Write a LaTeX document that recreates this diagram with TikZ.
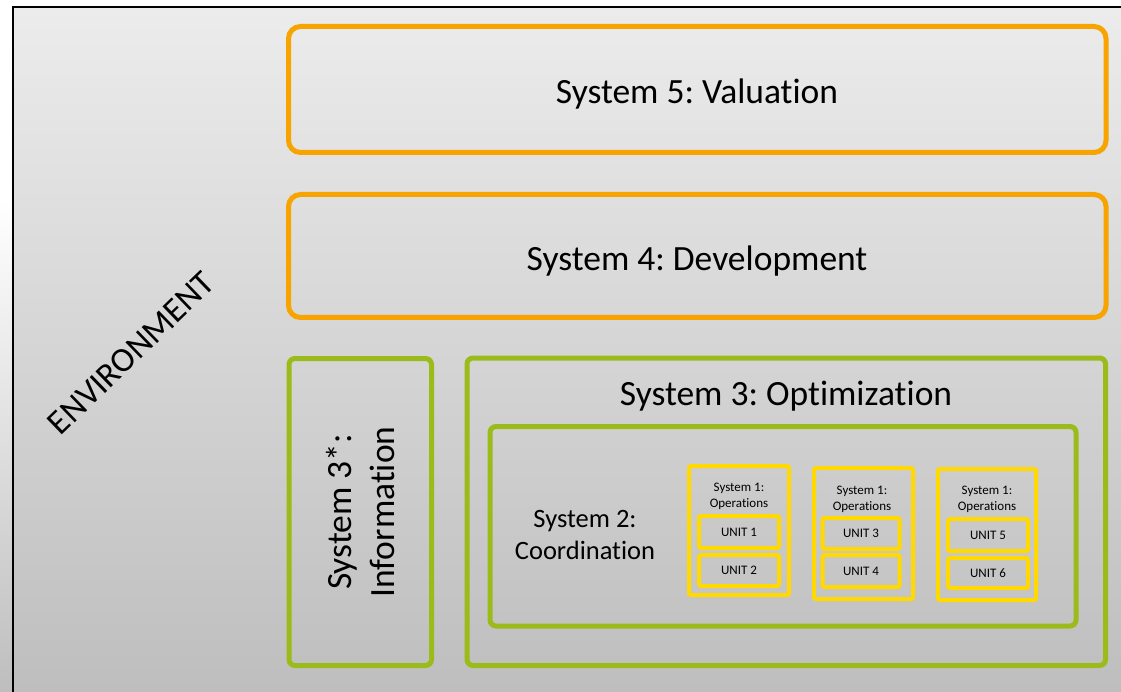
\documentclass[tikz,border=0pt]{standalone}
\usepackage{fontspec}
\setmainfont{Carlito}[Ligatures = NoCommon]
\frenchspacing
\definecolor{vsmorange}{RGB}{247,163,0}
\definecolor{vsmgreen}{RGB}{155,187,26}
\definecolor{vsmyellow}{RGB}{255,217,0}
\definecolor{envtop}{RGB}{236,236,236}
\definecolor{envbottom}{RGB}{190,190,190}
\tikzset{
	orangebox/.style = {draw = vsmorange, line width = 5pt, rounded corners = 12pt},
	greenbox/.style = {draw = vsmgreen, line width = 5pt, rounded corners = 6pt},
	yellowbox/.style = {draw = vsmyellow, line width = 4pt, rounded corners = 2pt},
	bigtext/.style = {font = \fontsize{35.5}{42.6}\selectfont, align = center},
	midtext/.style = {font = \fontsize{26.5}{32}\selectfont, align = center},
	smalltext/.style = {font = \fontsize{13}{16.5}\selectfont, align = center}
}
\begin{document}
\begin{tikzpicture}[x=1pt, y=-1pt]
		\useasboundingbox (0,0) rectangle (1121,692);
		\shade[top color = white, bottom color = envbottom] (0,200) rectangle (12,692);
		\shade[top color = envtop, bottom color = envbottom] (13,7) rectangle (1121,692);
		\draw[line width = 2pt] (13,692) -- (13,7) -- (1121,7);

		\draw (131,353) node[rotate = 44, font = \fontsize{34.5}{40}\selectfont] (env) {ENVIRONMENT};

		\draw (697.25,89.5) node[orangebox, minimum width = 817.5pt, minimum height = 126pt] (sys5) {};
		\draw (697,91) node[bigtext, text depth = 0pt] (sys5text) {System 5: Valuation};
		\draw (697.25,256) node[orangebox, minimum width = 817.5pt, minimum height = 123pt] (sys4) {};
		\draw (697,258) node[bigtext, text depth = 0pt] (sys4text) {System 4: Development};

		\draw (360.25,512) node[greenbox, minimum width = 142.5pt, minimum height = 307pt] (sys3star) {};
		\draw (sys3star.center) node[rotate = 90, bigtext] (sys3startext) {System 3*:\\Information};

		\draw (786.25,511.75) node[greenbox, minimum width = 638.5pt, minimum height = 307.5pt] (sys3) {};
		\draw (786,393) node[bigtext, text depth = 0pt] (sys3text) {System 3: Optimization};

		\draw (783,526.25) node[greenbox, minimum width = 586pt, minimum height = 199.5pt] (sys2) {};
		\draw (585,535) node[midtext] (sys2text) {System 2:\\Coordination};

		\draw (739,530.5) node[yellowbox, minimum width = 100pt, minimum height = 129pt] (opsA) {};
		\draw (739,496.5) node[smalltext] (opsAtext) {System 1:\\Operations};
		\draw (739,532) node[yellowbox, minimum width = 80pt, minimum height = 32pt, smalltext] (unit1) {UNIT 1};
		\draw (739,570.5) node[yellowbox, minimum width = 80pt, minimum height = 31pt, smalltext] (unit2) {UNIT 2};

		\draw (863.5,533.5) node[yellowbox, minimum width = 99pt, minimum height = 131pt] (opsB) {};
		\draw (862,499.5) node[smalltext] (opsBtext) {System 1:\\Operations};
		\draw (861,533.5) node[yellowbox, minimum width = 77pt, minimum height = 31pt, smalltext] (unit3) {UNIT 3};
		\draw (861,571) node[yellowbox, minimum width = 77pt, minimum height = 32pt, smalltext] (unit4) {UNIT 4};

		\draw (987,534.5) node[yellowbox, minimum width = 98pt, minimum height = 131pt] (opsC) {};
		\draw (987,499.5) node[smalltext] (opsCtext) {System 1:\\Operations};
		\draw (988,535) node[yellowbox, minimum width = 80pt, minimum height = 32pt, smalltext] (unit5) {UNIT 5};
		\draw (988,573) node[yellowbox, minimum width = 80pt, minimum height = 30pt, smalltext] (unit6) {UNIT 6};
	\end{tikzpicture}
\end{document}
